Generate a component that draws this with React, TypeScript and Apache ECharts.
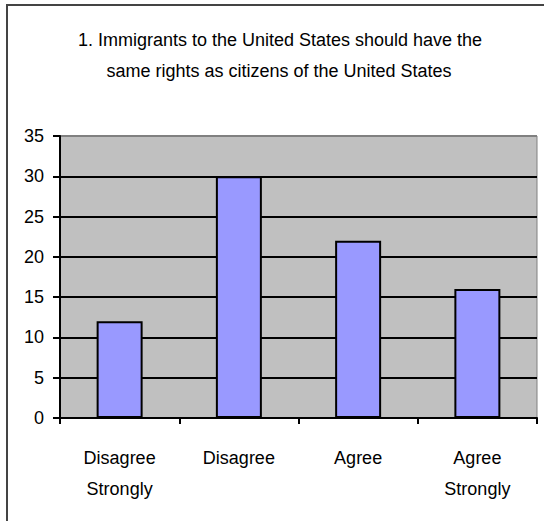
import React, { useEffect, useRef } from "react";
import * as echarts from "echarts";

const titleLines = [
  "1. Immigrants to the United States should have the",
  "same rights as citizens of the United States",
];
const categories = ["Disagree\nStrongly", "Disagree", "Agree", "Agree\nStrongly"];
const values = [12, 30, 22, 16];
const yMin = 0;
const yMax = 35;
const yStep = 5;

const FONT = "'Liberation Sans', Arial, sans-serif";

export default function App() {
  const ref = useRef<HTMLDivElement>(null);
  useEffect(() => {
    if (!ref.current) return;
    const chart = echarts.init(ref.current, undefined, { renderer: "svg" });
    const splitColors = ["#000", "#000", "#000", "#000", "#000", "#000", "#000", "#808080"];
    chart.setOption({
      animation: false,
      backgroundColor: "#ffffff",
      graphic: [
        {
          type: "rect",
          shape: { x: 7, y: 5, width: 600, height: 600 },
          style: { fill: "none", stroke: "#444", lineWidth: 2 },
          z: 10,
        },
        {
          type: "text",
          x: 280,
          y: 40,
          style: {
            text: titleLines[0],
            fontFamily: FONT,
            fontSize: 18,
            fill: "#000",
            textAlign: "center",
            textVerticalAlign: "middle",
          },
        },
        {
          type: "text",
          x: 279,
          y: 71,
          style: {
            text: titleLines[1],
            fontFamily: FONT,
            fontSize: 18,
            fill: "#000",
            textAlign: "center",
            textVerticalAlign: "middle",
          },
        },
      ],
      grid: {
        left: 60,
        top: 136,
        right: 7,
        bottom: 103,
        show: true,
        backgroundColor: "#c0c0c0",
        borderColor: "#808080",
        borderWidth: 1,
      },
      xAxis: {
        type: "category",
        data: categories,
        boundaryGap: true,
        axisLine: { show: true, lineStyle: { color: "#000", width: 2 } },
        axisTick: { show: true, length: 6, lineStyle: { color: "#000", width: 2 } },
        axisLabel: {
          color: "#000",
          fontFamily: FONT,
          fontSize: 18,
          lineHeight: 31,
          margin: 24,
          interval: 0,
        },
        splitLine: { show: false },
      },
      yAxis: {
        type: "value",
        min: yMin,
        max: yMax,
        interval: yStep,
        axisLine: { show: true, lineStyle: { color: "#000", width: 2 } },
        axisTick: { show: true, length: 7, lineStyle: { color: "#000", width: 2 } },
        axisLabel: {
          color: "#000",
          fontFamily: FONT,
          fontSize: 18,
          margin: 16,
        },
        splitLine: { show: true, lineStyle: { color: splitColors, width: 2 } },
      },
      series: [
        {
          type: "bar",
          data: values,
          barWidth: 46,
          itemStyle: { color: "#9999ff", borderColor: "#000", borderWidth: 2 },
        },
      ],
    });
    return () => chart.dispose();
  }, []);
  return (
    <div
      ref={ref}
      style={{ position: "fixed", left: 0, top: 0, width: 544, height: 521 }}
    />
  );
}
